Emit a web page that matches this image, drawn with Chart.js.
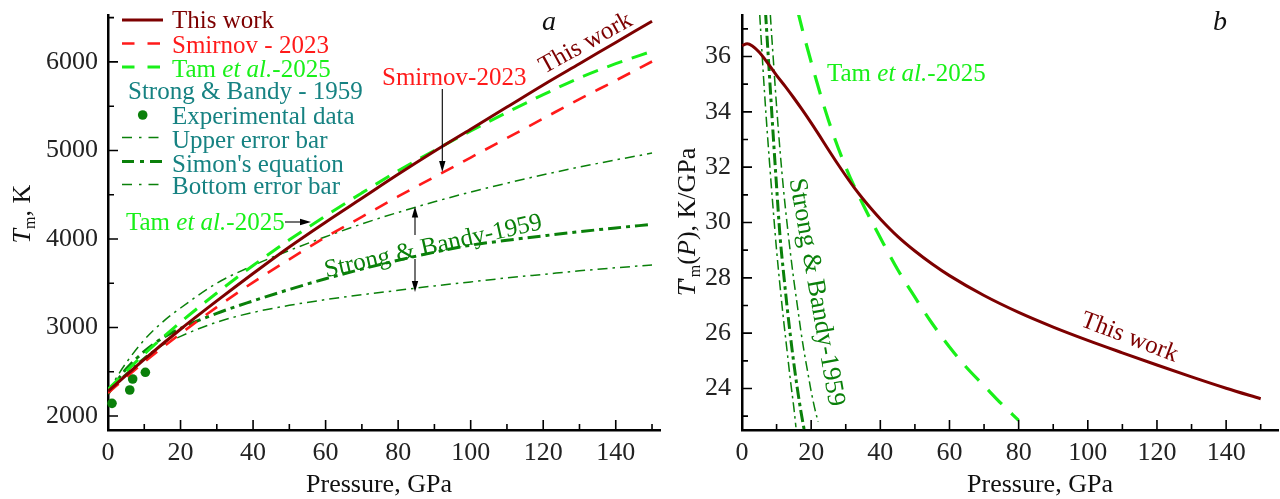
<!DOCTYPE html>
<html><head><meta charset="utf-8">
<script src="https://cdn.jsdelivr.net/npm/chart.js@4.4.1/dist/chart.umd.min.js"></script>
<style>
html,body{margin:0;padding:0;background:#fff;}
#wrap{position:relative;width:1280px;height:499px;overflow:hidden;background:#fff;}
canvas{position:absolute;top:0;}
#cA{left:0;} #cB{left:665px;}
</style></head><body>
<div id="wrap"><canvas id="cA" width="665" height="499"></canvas><canvas id="cB" width="615" height="499"></canvas></div>
<script>
// ---------------- data (panel a: melting temperature, K) ----------------
const pressureMain = [0,10,20,30,40,50,60,70,80,90,100,110,120,130,140,150];
const tmThisWork  = [2280,2640,2980,3300,3610,3910,4190,4460,4730,4990,5240,5490,5740,5980,6220,6460];
const tmSmirnov   = [2260,2610,2930,3230,3510,3770,4020,4250,4480,4700,4920,5140,5360,5580,5790,6005];
const tmTam       = [2300,2700,3060,3390,3700,3990,4260,4520,4770,5000,5220,5430,5630,5820,5980,6120];
const pressureSB  = [0,2,5,10,15,20,30,40,50,60,70,80,90,100,110,120,130,140,150];
const tmSBUpper   = [2260,2410,2600,2860,3060,3220,3500,3700,3870,4025,4170,4300,4420,4530,4630,4725,4812,4893,4970];
const tmSBSimon   = [2250,2370,2530,2730,2880,2990,3160,3300,3430,3550,3660,3760,3850,3930,3985,4035,4082,4125,4165];
const tmSBLower   = [2250,2360,2480,2660,2800,2900,3060,3170,3250,3315,3370,3420,3470,3515,3560,3600,3640,3675,3706];
const expPressure = [1.1,6.0,6.8,10.3];
const expTm       = [2143,2294,2418,2494];
// ---------------- data (panel b: dTm/dP, K/GPa) ----------------
const dPThisWork = [0,1.5,3,5,7.5,10,12.5,15,17.5,20,22.5,25,27.5,30,32.5,35,37.5,40,45,50,55,60,70,80,90,100,110,120,130,140,150];
const dTThisWork = [36.40,36.46,36.38,36.15,35.75,35.32,34.92,34.50,34.06,33.60,33.12,32.63,32.15,31.69,31.25,30.85,30.48,30.13,29.50,28.97,28.50,28.08,27.36,26.75,26.22,25.74,25.29,24.85,24.42,24.01,23.63];
const dPTam = [14,16,20,25,30,35,40,45,50,55,60,65,70,75,80];
const dTTam = [38.8,37.7,35.8,33.7,32.0,30.65,29.45,28.3,27.3,26.35,25.5,24.75,24.1,23.45,22.85];
const dPSBLower = [4.5,5,6,7,8,9,10,11,12,13,14,15,15.6];
const dTSBLower = [39.0,37.8,35.7,33.8,32.1,30.5,29.0,27.7,26.5,25.4,24.3,23.3,22.6];
const dPSBSimon = [6,7,8,9,10,11,12,13,14,15,16,17,18,18.3];
const dTSBSimon = [39.3,37.2,35.2,33.2,31.3,29.5,28.2,27.0,25.9,24.9,24.0,23.2,22.5,22.3];
const dPSBUpper = [7.5,8.2,9,10,11,12,13,14,15,16,17,18,19,20,21,22];
const dTSBUpper = [39.0,37.5,36.0,34.2,32.6,31.2,30.0,28.9,27.9,27.0,26.1,25.3,24.6,23.9,23.3,22.8];
// ---------------- ticks ----------------
const xTicks = [0,10,20,30,40,50,60,70,80,90,100,110,120,130,140,150];
const yTicksA = [2000,2500,3000,3500,4000,4500,5000,5500,6000,6500];
const yTicksB = [23,24,25,26,27,28,29,30,31,32,33,34,35,36,37];

const FONT = "'Liberation Serif','Times New Roman',serif";
const MAROON = '#7d0000', RED = '#ff1a1a', LIME = '#19f019', GREEN = '#0a800a', TEAL = '#168282', TXT = '#222';

function lineDS(label, xs, ys, color, width, dash, extra) {
  return Object.assign({
    label, data: xs.map((x, i) => ({x, y: ys[i]})), showLine: true,
    borderColor: color, backgroundColor: color, borderWidth: width, borderDash: dash || [],
    pointRadius: 0, pointHoverRadius: 0, fill: false, cubicInterpolationMode: 'monotone',
    borderCapStyle: 'butt', borderJoinStyle: 'round'
  }, extra || {});
}
function xAxis(max, labelEvery) {
  return {
    type: 'linear', position: 'bottom', min: 0, max,
    afterBuildTicks: s => { s.ticks = xTicks.map(v => ({value: v})); },
    afterFit: s => { s.height = 69; s.paddingLeft = 0; s.paddingRight = 0; },
    grid: {display: false, drawTicks: false},
    border: {display: true, color: '#000', width: 2.5},
    ticks: {autoSkip: false, maxRotation: 0, minRotation: 0, padding: 8, color: TXT,
      font: {family: FONT, size: 26}, callback: v => (v % labelEvery === 0 ? String(v) : '')}
  };
}
function yAxis(min, max, vals, width, pad, isMajor) {
  return {
    type: 'linear', position: 'left', min, max,
    afterBuildTicks: s => { s.ticks = vals.map(v => ({value: v})); },
    afterFit: s => { s.width = width; s.paddingTop = 0; s.paddingBottom = 0; },
    grid: {display: false, drawTicks: false},
    border: {display: true, color: '#000', width: 2.5},
    ticks: {autoSkip: false, padding: pad, color: TXT, font: {family: FONT, size: 26},
      callback: v => (isMajor(v) ? String(v) : '')}
  };
}
function drawTickMarks(chart, xMajor, yVals, yMajor) {
  const ctx = chart.ctx, a = chart.chartArea, sx = chart.scales.x, sy = chart.scales.y;
  ctx.save(); ctx.strokeStyle = '#000'; ctx.lineWidth = 1.6; ctx.beginPath();
  xTicks.forEach(v => { const p = sx.getPixelForValue(v); const L = v % xMajor === 0 ? 10 : 6;
    ctx.moveTo(p, a.bottom); ctx.lineTo(p, a.bottom - L); });
  yVals.forEach(v => { const p = sy.getPixelForValue(v); const L = yMajor(v) ? 10 : 6;
    ctx.moveTo(a.left, p); ctx.lineTo(a.left + L, p); });
  ctx.stroke(); ctx.restore();
}
function rich(ctx, parts, x, y, size, color, align) {
  let w = 0;
  parts.forEach(p => { ctx.font = (p.i ? 'italic ' : '') + ((p.s || 1) * size) + 'px ' + FONT; w += ctx.measureText(p.t).width; });
  let cx = align === 'center' ? x - w / 2 : (align === 'right' ? x - w : x);
  ctx.fillStyle = color; ctx.textAlign = 'left'; ctx.textBaseline = 'alphabetic';
  parts.forEach(p => { ctx.font = (p.i ? 'italic ' : '') + ((p.s || 1) * size) + 'px ' + FONT;
    ctx.fillText(p.t, cx, y + (p.dy || 0)); cx += ctx.measureText(p.t).width; });
  return w;
}
function rotText(ctx, parts, cx, cy, deg, size, color) {
  ctx.save(); ctx.translate(cx, cy); ctx.rotate(deg * Math.PI / 180);
  rich(ctx, parts, 0, size * 0.33, size, color, 'center'); ctx.restore();
}
function arrow(ctx, x1, y1, x2, y2) {
  const ang = Math.atan2(y2 - y1, x2 - x1), L = 11, W = 3.2;
  ctx.save(); ctx.strokeStyle = '#000'; ctx.fillStyle = '#000'; ctx.lineWidth = 1.1;
  ctx.beginPath(); ctx.moveTo(x1, y1); ctx.lineTo(x2 - Math.cos(ang) * L * 0.7, y2 - Math.sin(ang) * L * 0.7); ctx.stroke();
  ctx.beginPath(); ctx.moveTo(x2, y2);
  ctx.lineTo(x2 - Math.cos(ang) * L - Math.sin(ang) * W, y2 - Math.sin(ang) * L + Math.cos(ang) * W);
  ctx.lineTo(x2 - Math.cos(ang) * L + Math.sin(ang) * W, y2 - Math.sin(ang) * L - Math.cos(ang) * W);
  ctx.closePath(); ctx.fill(); ctx.restore();
}
function sample(ctx, y, color, width, dash) {
  ctx.save(); ctx.strokeStyle = color; ctx.lineWidth = width; ctx.setLineDash(dash); ctx.lineCap = 'butt';
  ctx.beginPath(); ctx.moveTo(122, y); ctx.lineTo(163, y); ctx.stroke(); ctx.restore();
}
const TAM = [{t: 'Tam '}, {t: 'et al.', i: true}, {t: '-2025'}];

// ---------------- panel a ----------------
const decoA = {
  id: 'decoA',
  afterDraw(chart) {
    const ctx = chart.ctx;
    drawTickMarks(chart, 20, yTicksA, v => v % 1000 === 0);
    rich(ctx, [{t: 'Pressure, GPa'}], 379, 492, 26, '#111', 'center');
    ctx.save(); ctx.translate(30, 214); ctx.rotate(-Math.PI / 2);
    rich(ctx, [{t: 'T', i: true}, {t: 'm', s: 0.62, dy: 5}, {t: ', K'}], 0, 0, 26, '#111', 'center');
    ctx.restore();
    rich(ctx, [{t: 'a', i: true}], 542, 30, 28, '#111', 'left');
    // legend
    sample(ctx, 20, MAROON, 3, []);
    rich(ctx, [{t: 'This work'}], 172, 28, 25, MAROON, 'left');
    sample(ctx, 43.5, RED, 2.6, [12.5, 13]);
    rich(ctx, [{t: 'Smirnov - 2023'}], 172, 52.5, 25, RED, 'left');
    sample(ctx, 67, LIME, 3, [12.5, 13]);
    rich(ctx, TAM, 172, 77, 25, LIME, 'left');
    rich(ctx, [{t: 'Strong & Bandy - 1959'}], 128, 99, 25, TEAL, 'left');
    ctx.save(); ctx.fillStyle = GREEN; ctx.beginPath(); ctx.arc(142.7, 115, 4.8, 0, Math.PI * 2); ctx.fill(); ctx.restore();
    rich(ctx, [{t: 'Experimental data'}], 172, 124, 25, TEAL, 'left');
    sample(ctx, 137.5, GREEN, 1.5, [10, 7, 2.5, 7]);
    rich(ctx, [{t: 'Upper error bar'}], 172, 148, 25, TEAL, 'left');
    sample(ctx, 161.5, GREEN, 3, [12, 6, 4, 6]);
    rich(ctx, [{t: "Simon's equation"}], 172, 171.5, 25, TEAL, 'left');
    sample(ctx, 184.5, GREEN, 1.5, [10, 7, 2.5, 7]);
    rich(ctx, [{t: 'Bottom error bar'}], 172, 193.5, 25, TEAL, 'left');
    // annotations
    rotText(ctx, [{t: 'This work'}], 585, 42, -29, 25, MAROON);
    rich(ctx, [{t: 'Smirnov-2023'}], 382, 85, 25, RED, 'left');
    arrow(ctx, 442.3, 89, 442.3, 172);
    rich(ctx, TAM, 126, 230, 25, LIME, 'left');
    arrow(ctx, 285, 222, 311, 222);
    rotText(ctx, [{t: 'Strong & Bandy-1959'}], 433, 245, -12.6, 25, GREEN);
    arrow(ctx, 415, 235, 415, 206.5);
    arrow(ctx, 415, 259, 415, 292);
  }
};
new Chart(document.getElementById('cA'), {
  type: 'scatter',
  data: {datasets: [
    lineDS('This work', pressureMain, tmThisWork, MAROON, 3, []),
    lineDS('Smirnov - 2023', pressureMain, tmSmirnov, RED, 2.6, [14, 11]),
    lineDS('Tam et al.-2025', pressureMain, tmTam, LIME, 3, [16, 10]),
    lineDS('Upper error bar', pressureSB, tmSBUpper, GREEN, 1.5, [10, 5, 2.5, 5]),
    lineDS("Simon's equation", pressureSB, tmSBSimon, GREEN, 3, [13, 5, 4, 5]),
    lineDS('Bottom error bar', pressureSB, tmSBLower, GREEN, 1.5, [10, 5, 2.5, 5]),
    {label: 'Experimental data', data: expPressure.map((x, i) => ({x, y: expTm[i]})), showLine: false,
     pointRadius: 4.8, pointHoverRadius: 4.8, pointBackgroundColor: GREEN, pointBorderColor: GREEN, pointBorderWidth: 0, clip: false}
  ]},
  options: {
    responsive: false, animation: false, devicePixelRatio: 1,
    layout: {padding: {top: 15, right: 5, left: 0, bottom: 0}},
    plugins: {legend: {display: false}, tooltip: {enabled: false}},
    scales: {x: xAxis(152.2, 20), y: yAxis(1842, 6530, yTicksA, 108, 10, v => v % 1000 === 0)}
  },
  plugins: [decoA]
});

// ---------------- panel b ----------------
const decoB = {
  id: 'decoB',
  afterDraw(chart) {
    const ctx = chart.ctx;
    drawTickMarks(chart, 20, yTicksB, v => v % 2 === 0);
    rich(ctx, [{t: 'Pressure, GPa'}], 1040 - 665, 492, 26, '#111', 'center');
    ctx.save(); ctx.translate(695 - 665, 222); ctx.rotate(-Math.PI / 2);
    rich(ctx, [{t: 'T', i: true}, {t: "'"}, {t: 'm', s: 0.62, dy: 5}, {t: '('}, {t: 'P', i: true}, {t: '), K/GPa'}], 0, 0, 26, '#111', 'center');
    ctx.restore();
    rich(ctx, [{t: 'b', i: true}], 1213 - 665, 30, 28, '#111', 'left');
    rich(ctx, TAM, 827 - 665, 81, 25, LIME, 'left');
    rotText(ctx, [{t: 'This work'}], 1130 - 665, 336, 21, 25, MAROON);
    rotText(ctx, [{t: 'Strong & Bandy-1959'}], 818 - 665, 292, 80, 26, GREEN);
  }
};
const clipB = {left: 3, top: 0, right: 3, bottom: 0};
new Chart(document.getElementById('cB'), {
  type: 'scatter',
  data: {datasets: [
    lineDS('This work', dPThisWork, dTThisWork, MAROON, 3, [], {clip: clipB}),
    lineDS('Tam et al.-2025', dPTam, dTTam, LIME, 3.2, [20, 13], {clip: clipB}),
    lineDS('Bottom error bar', dPSBLower, dTSBLower, GREEN, 1.5, [10, 4, 2.5, 4], {clip: clipB}),
    lineDS("Simon's equation", dPSBSimon, dTSBSimon, GREEN, 3, [12, 4, 3.5, 4], {clip: clipB}),
    lineDS('Upper error bar', dPSBUpper, dTSBUpper, GREEN, 1.5, [10, 4, 2.5, 4], {clip: clipB})
  ]},
  options: {
    responsive: false, animation: false, devicePixelRatio: 1,
    layout: {padding: {top: 15, right: 2, left: 0, bottom: 0}},
    plugins: {legend: {display: false}, tooltip: {enabled: false}},
    scales: {x: xAxis(155, 20), y: yAxis(22.5, 37.5, yTicksB, 77, 11, v => v % 2 === 0)}
  },
  plugins: [decoB]
});
</script>
</body></html>
